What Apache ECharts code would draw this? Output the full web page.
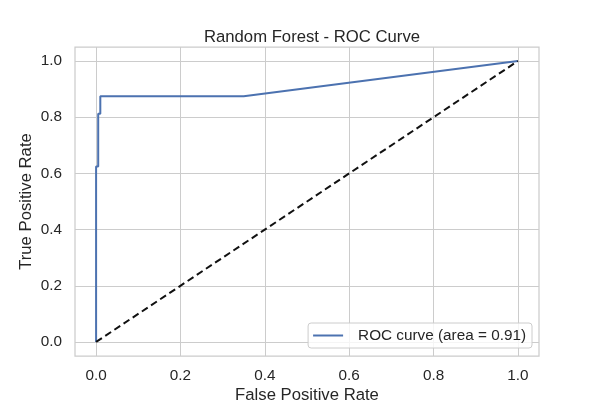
<!DOCTYPE html>
<html><head><meta charset="utf-8">
<script src="https://cdn.jsdelivr.net/npm/echarts@6/dist/echarts.min.js"></script>
<style>html,body{margin:0;padding:0;background:#fff}#c{width:600px;height:400px}</style>
</head><body><div id="c"></div>
<script>
const fpr = [0, 0, 0.005, 0.005, 0.01, 0.01, 0.35, 1];
const tpr = [0, 0.625, 0.625, 0.8125, 0.8125, 0.875, 0.875, 1];
const diagX = [0, 1];
const diagY = [0, 1];
const tickValues = [0, 0.2, 0.4, 0.6, 0.8, 1.0];
const titleText = 'Random Forest - ROC Curve';
const legendText = 'ROC curve (area = 0.91)';

const FONT = 'Liberation Sans, Arial, sans-serif';
const TXT = '#262626';
const chart = echarts.init(document.getElementById('c'), null, {renderer: 'canvas'});
const axisCommon = {
  min: -0.05, max: 1.05,
  axisLine: {show: false},
  axisTick: {show: false, customValues: tickValues},
  axisLabel: {customValues: tickValues, color: TXT, fontFamily: FONT, fontSize: 15.3,
    formatter: v => v.toFixed(1)},
  splitLine: {show: true, lineStyle: {color: '#cccccc', width: 1}},
  nameLocation: 'middle',
  nameMoveOverlap: false,
  nameTextStyle: {color: TXT, fontFamily: FONT, fontSize: 16.7}
};
chart.setOption({
  animation: false,
  title: {text: titleText, left: 307, textAlign: 'center', top: 24,
    textStyle: {color: TXT, fontFamily: FONT, fontSize: 16.7, fontWeight: 'normal'}},
  grid: {left: 75, right: 61, top: 47, bottom: 44, show: true, containLabel: false, outerBoundsMode: 'none',
    borderColor: '#cccccc', borderWidth: 1.25, backgroundColor: 'transparent'},
  xAxis: Object.assign({}, axisCommon, {type: 'value', name: 'False Positive Rate', nameGap: 31,
    axisLabel: Object.assign({}, axisCommon.axisLabel, {margin: 12})}),
  yAxis: Object.assign({}, axisCommon, {type: 'value', name: 'True Positive Rate', nameGap: 40,
    axisLabel: Object.assign({}, axisCommon.axisLabel, {margin: 13})}),
  legend: {data: [legendText], right: 68, bottom: 52, orient: 'vertical',
    padding: [5, 6, 5, 5], itemGap: 0,
    borderColor: '#cccccc', borderWidth: 1, borderRadius: 3, backgroundColor: 'rgba(255,255,255,0.8)',
    icon: 'rect', itemWidth: 30, itemHeight: 2,
    textStyle: {color: TXT, fontFamily: FONT, fontSize: 15.3, padding: [0, 0, 0, 10]}},
  series: [
    {name: legendText, type: 'line', data: fpr.map((x, i) => [x, tpr[i]]),
      showSymbol: false, symbol: 'none', lineStyle: {color: '#4c72b0', width: 2}, itemStyle: {color: '#4c72b0'}, z: 3},
    {name: 'diag', type: 'line', data: diagX.map((x, i) => [x, diagY[i]]),
      showSymbol: false, symbol: 'none', lineStyle: {color: '#111111', width: 2, type: [7, 4]}, z: 4}
  ]
});
</script></body></html>
